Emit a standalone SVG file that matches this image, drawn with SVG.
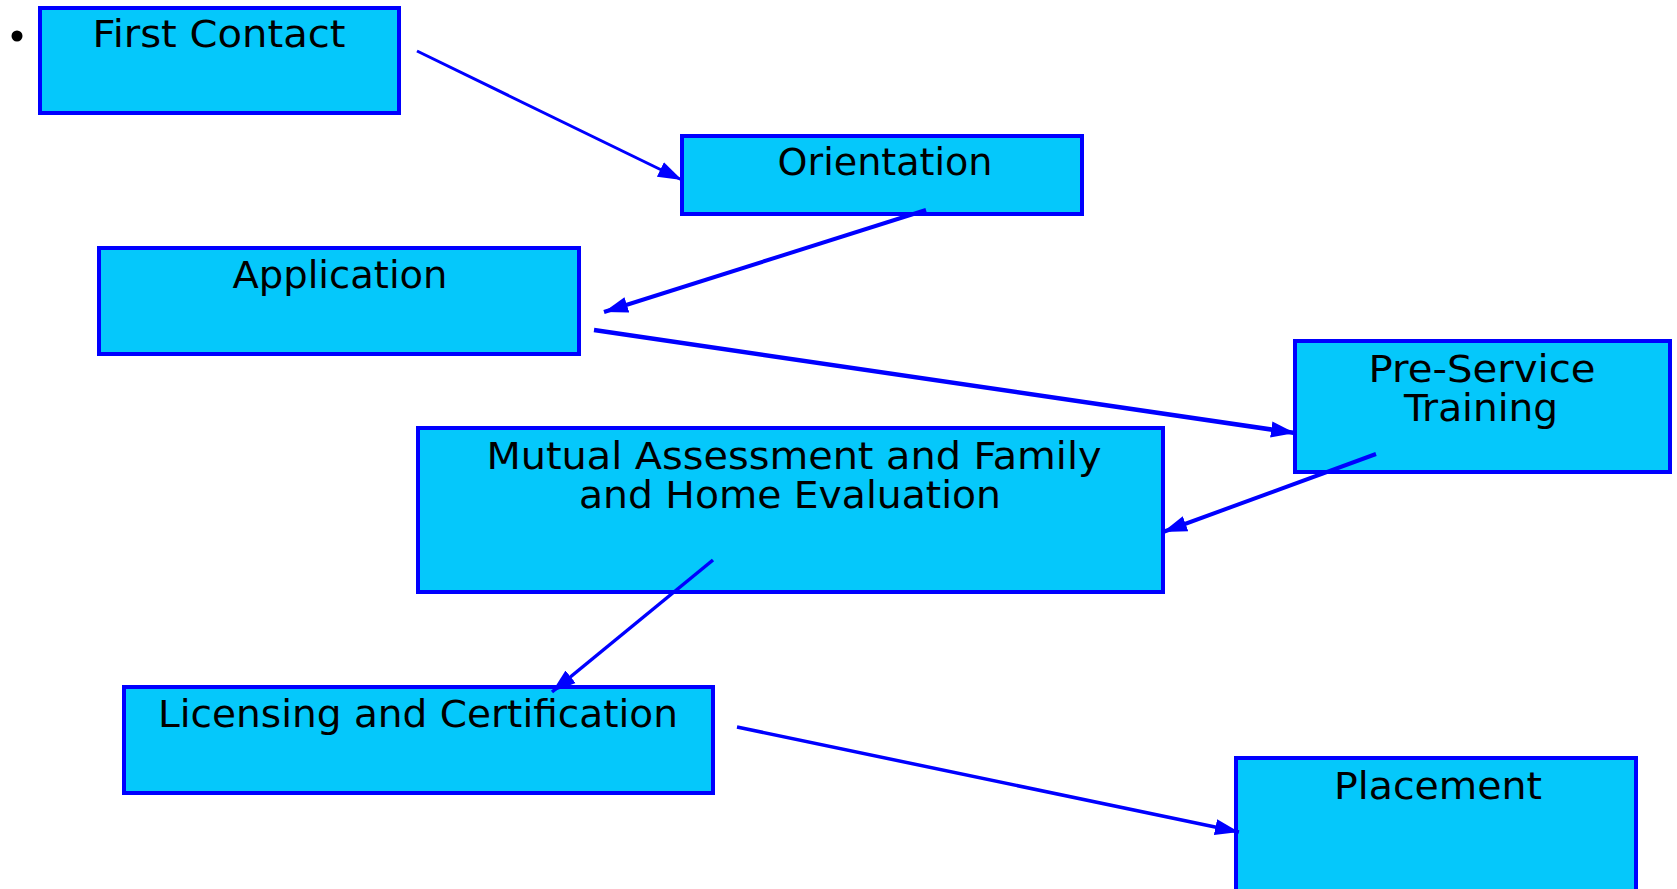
<svg xmlns="http://www.w3.org/2000/svg" width="1677" height="889" viewBox="0 0 1677 889">
<style>
.box{fill:#05C8FB;stroke:#0000FF;stroke-width:4}
.lbl{font-family:"DejaVu Sans",Verdana,sans-serif;font-size:37px;fill:#000;text-anchor:middle}
.con{stroke:#0000FF;fill:none}
</style>
<defs>
<marker id="ah" markerUnits="userSpaceOnUse" markerWidth="26" markerHeight="20" refX="24" refY="10" orient="auto">
<path d="M0,2 L24,10 L0,18 Z" fill="#0000FF"/>
</marker>
</defs>
<rect width="1677" height="889" fill="#FFFFFF"/>
<circle cx="17" cy="36" r="5.5" fill="#000"/>
<g id="first-contact">
<rect class="box" x="40" y="8" width="359" height="105"/>
<text class="lbl" x="219" y="47" textLength="253" lengthAdjust="spacingAndGlyphs">First Contact</text>
</g>
<g id="orientation">
<rect class="box" x="682" y="136" width="400" height="78"/>
<text class="lbl" x="885" y="175" textLength="215" lengthAdjust="spacingAndGlyphs">Orientation</text>
</g>
<g id="application">
<rect class="box" x="99" y="248" width="480" height="106"/>
<text class="lbl" x="340" y="288" textLength="215" lengthAdjust="spacingAndGlyphs">Application</text>
</g>
<g id="pre-service-training">
<rect class="box" x="1295" y="341" width="375" height="131"/>
<text class="lbl" x="1482" y="382" textLength="227" lengthAdjust="spacingAndGlyphs">Pre-Service</text>
<text class="lbl" x="1481" y="421" textLength="154" lengthAdjust="spacingAndGlyphs">Training</text>
</g>
<g id="mutual-assessment">
<rect class="box" x="418" y="428" width="745" height="164"/>
<text class="lbl" x="794" y="469" textLength="615" lengthAdjust="spacingAndGlyphs">Mutual Assessment and Family</text>
<text class="lbl" x="790" y="508" textLength="422" lengthAdjust="spacingAndGlyphs">and Home Evaluation</text>
</g>
<g id="licensing">
<rect class="box" x="124" y="687" width="589" height="106"/>
<text class="lbl" x="418" y="727" textLength="520" lengthAdjust="spacingAndGlyphs">Licensing and Certification</text>
</g>
<g id="placement">
<rect class="box" x="1236" y="758" width="400" height="135"/>
<text class="lbl" x="1438" y="799" textLength="208" lengthAdjust="spacingAndGlyphs">Placement</text>
</g>
<g id="connectors">
<line class="con" x1="417" y1="51" x2="682" y2="180" stroke-width="3" marker-end="url(#ah)"/>
<line class="con" x1="926" y1="210" x2="604" y2="312" stroke-width="4" marker-end="url(#ah)"/>
<line class="con" x1="594" y1="330" x2="1295" y2="433" stroke-width="4.5" marker-end="url(#ah)"/>
<line class="con" x1="1376" y1="454" x2="1163" y2="532" stroke-width="4" marker-end="url(#ah)"/>
<line class="con" x1="713" y1="560" x2="552" y2="692" stroke-width="3.5" marker-end="url(#ah)"/>
<line class="con" x1="737" y1="727" x2="1239" y2="832" stroke-width="3.5" marker-end="url(#ah)"/>
</g>
</svg>
